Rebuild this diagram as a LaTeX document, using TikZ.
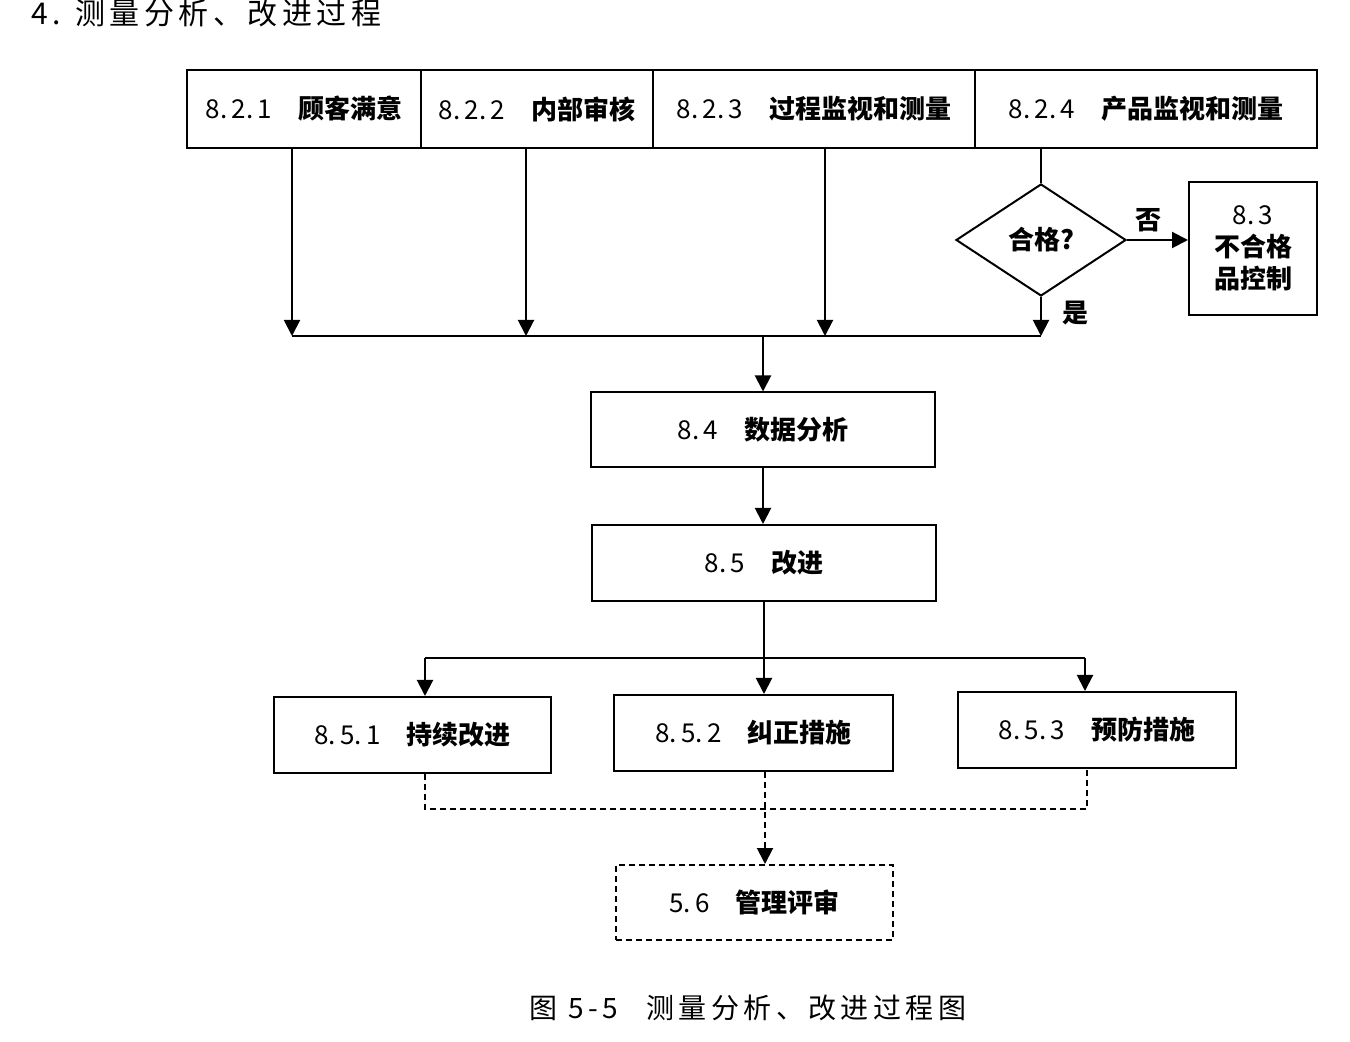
\documentclass[tikz,border=0pt]{standalone}
\usepackage{fontspec}
\setmainfont{Noto Sans CJK SC}
\newfontfamily\cjk{Noto Sans CJK SC}
\usetikzlibrary{shapes.geometric,arrows.meta}
\newcommand\mynum[1]{{\mdseries #1}}
\begin{document}
\begin{tikzpicture}[x=0.5pt,y=-0.5pt,
  every node/.style={font=\cjk\bfseries\fontsize{13pt}{16pt}\selectfont},
  box/.style={draw,line width=1pt,inner sep=0pt},
  arr/.style={-{Triangle[length=8pt,width=8pt]}},
  ln/.style={line width=1pt},
  dsh/.style={line width=1pt,dash pattern=on 3pt off 2pt}]
\useasboundingbox (0,0) rectangle (1350,1042);
% title
\node[anchor=west,font=\cjk\fontsize{15pt}{18pt}\selectfont\addfontfeature{LetterSpace=15}] (title) at (24,13) {4. 测量分析、改进过程};
% top row
\node[box,minimum width=117pt,minimum height=39pt] (b821) at (304,109) {\mynum{8.\,2.\,1}\quad 顾客满意};
\node[box,minimum width=116pt,minimum height=39pt] (b822) at (537,109) {\mynum{8.\,2.\,2}\quad 内部审核};
\node[box,minimum width=161pt,minimum height=39pt] (b823) at (814,109) {\mynum{8.\,2.\,3}\quad 过程监视和测量};
\node[box,minimum width=171pt,minimum height=39pt] (b824) at (1146,109) {\mynum{8.\,2.\,4}\quad 产品监视和测量};
% diamond
\node[draw,line width=1pt,diamond,aspect=1.52,inner sep=0pt,minimum width=85pt,minimum height=56pt] (dia) at (1041,240) {合格?};
\node[box,minimum width=64pt,minimum height=66.5pt,align=center] (b83) at (1253,248.5) {\mynum{8.\,3}\\不合格\\品控制};
\node (no) at (1148,220) {否};
\node (yes) at (1075,313) {是};
% junctions
\coordinate (j1) at (292,336);
\coordinate (j2) at (526,336);
\coordinate (j3) at (825,336);
\coordinate (j4) at (1041,336);
\coordinate (jm) at (763,336);
% middle boxes
\node[box,minimum width=172pt,minimum height=37.5pt] (b84) at (763,430) {\mynum{8.\,4}\quad 数据分析};
\node[box,minimum width=172pt,minimum height=38pt] (b85) at (764,563) {\mynum{8.\,5}\quad 改进};
% bottom row
\node[box,minimum width=138.5pt,minimum height=38pt] (b851) at (412.5,735) {\mynum{8.\,5.\,1}\quad 持续改进};
\node[box,minimum width=139.5pt,minimum height=38pt] (b852) at (753.5,733) {\mynum{8.\,5.\,2}\quad 纠正措施};
\node[box,minimum width=139pt,minimum height=38pt] (b853) at (1097,730) {\mynum{8.\,5.\,3}\quad 预防措施};
\node[draw,dsh,inner sep=0pt,minimum width=138.5pt,minimum height=37.5pt] (b56) at (754.5,902.5) {\mynum{5.\,6}\quad 管理评审};
% caption
\node[font=\cjk\fontsize{14pt}{17pt}\selectfont\addfontfeature{LetterSpace=16}] (cap) at (748,1008) {图 5-5\quad 测量分析、改进过程图};
% connectors top
\draw[ln,arr] (b821.south -| j1) -- (j1);
\draw[ln,arr] (b822.south -| j2) -- (j2);
\draw[ln,arr] (b823.south -| j3) -- (j3);
\draw[ln] (b824.south -| dia.north) -- (dia.north);
\draw[ln,arr] (dia.south) -- (j4);
\draw[ln,arr] (dia.east) -- (dia.east -| b83.west);
\draw[ln] (j1) -- (j4);
\draw[ln,arr] (jm) -- (jm |- b84.north);
\draw[ln,arr] (b84.south) -- (b84.south |- b85.north);
% split
\coordinate (sl) at (425,658);
\coordinate (sr) at (1085,658);
\draw[ln,arr] (b85.south) -- (b852.north -| b85.south);
\draw[ln] (sl) -- (sr);
\draw[ln,arr] (sl) -- (sl |- b851.north);
\draw[ln,arr] (sr) -- (sr |- b853.north);
% dashed
\coordinate (dl) at (425,809);
\coordinate (dr) at (1087,809);
\coordinate (dm) at (765,809);
\draw[dsh] (dl |- b851.south) -- (dl) -- (dr) -- (dr |- b853.south);
\draw[dsh,arr] (dm |- b852.south) -- (dm |- b56.north);
\end{tikzpicture}
\end{document}
